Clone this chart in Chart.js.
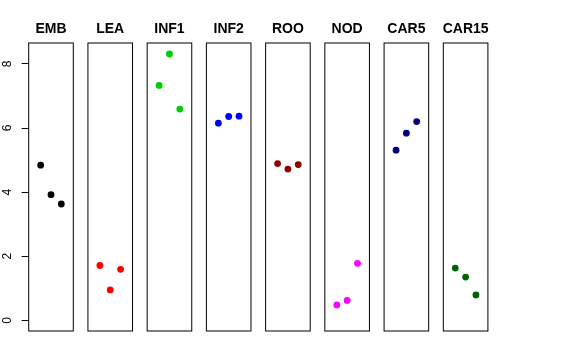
<!DOCTYPE html>
<html>
<head>
<meta charset="utf-8">
<script src="https://cdn.jsdelivr.net/npm/chart.js@4/dist/chart.umd.min.js"></script>
<style>
  html, body { margin: 0; padding: 0; background: #fff; }
  #wrap { position: relative; width: 576px; height: 360px; overflow: hidden; }
  #wrap .cell { position: absolute; top: 0; }
</style>
</head>
<body>
<div id="wrap"></div>
<script>
// panel names + colours
const groups = ['EMB', 'LEA', 'INF1', 'INF2', 'ROO', 'NOD', 'CAR5', 'CAR15'];
const colors = ['#000000', '#ff0000', '#00cd00', '#0000ff', '#8b0000', '#ff00ff', '#000080', '#006400'];

// three replicates per group
const xPos = [1, 2, 3];
const EMB = [4.84, 3.92, 3.63];
const LEA = [1.71, 0.95, 1.59];
const INF1 = [7.33, 8.31, 6.59];
const INF2 = [6.15, 6.36, 6.37];
const ROO = [4.89, 4.72, 4.86];
const NOD = [0.48, 0.62, 1.78];
const CAR5 = [5.31, 5.84, 6.20];
const CAR15 = [1.63, 1.35, 0.79];
const values = [EMB, LEA, INF1, INF2, ROO, NOD, CAR5, CAR15];

const yTicks = [0, 2, 4, 6, 8];

// panel geometry
const PANEL_LEFT = 28.7, PANEL_STEP = 59.23, PANEL_W = 44.6;
const PLOT_TOP = 43, PLOT_BOTTOM = 331, H = 360;
const SIDE = 6;

const boxAndTitle = {
  id: 'boxAndTitle',
  afterDraw(chart, args, opts) {
    const { ctx, chartArea: a } = chart;
    ctx.save();
    ctx.strokeStyle = '#000';
    ctx.lineWidth = 1;
    ctx.strokeRect(a.left, a.top, a.right - a.left, a.bottom - a.top);
    ctx.fillStyle = '#000';
    ctx.font = 'bold 14px "Liberation Sans", Arial, sans-serif';
    ctx.textAlign = 'center';
    ctx.textBaseline = 'middle';
    ctx.fillText(opts.text, (a.left + a.right) / 2, 29.5);
    ctx.restore();
  }
};

const wrap = document.getElementById('wrap');

groups.forEach((name, i) => {
  const first = i === 0;
  const left = PANEL_LEFT + PANEL_STEP * i;
  const cvLeft = first ? 0 : Math.floor(left - SIDE);
  const cvW = Math.ceil(left + PANEL_W + SIDE) - cvLeft;
  const inner = left - cvLeft;

  const cell = document.createElement('div');
  cell.className = 'cell';
  cell.style.left = cvLeft + 'px';
  cell.style.width = cvW + 'px';
  cell.style.height = H + 'px';
  const cv = document.createElement('canvas');
  cv.width = cvW;
  cv.height = H;
  cell.appendChild(cv);
  wrap.appendChild(cell);

  new Chart(cv, {
    type: 'scatter',
    data: {
      datasets: [{
        data: xPos.map((x, k) => ({ x, y: values[i][k] })),
        backgroundColor: colors[i],
        borderColor: colors[i],
        borderWidth: 0,
        pointRadius: 3.4,
        pointHoverRadius: 3.4
      }]
    },
    options: {
      responsive: false,
      animation: false,
      events: [],
      layout: {
        padding: {
          top: PLOT_TOP,
          bottom: H - PLOT_BOTTOM,
          left: first ? 0 : inner,
          right: cvW - inner - PANEL_W
        }
      },
      plugins: {
        legend: { display: false },
        tooltip: { enabled: false },
        boxAndTitle: { text: name }
      },
      scales: {
        x: { type: 'linear', display: false, min: -0.16, max: 4.16 },
        y: {
          type: 'linear',
          display: first,
          min: -0.333,
          max: 8.653,
          afterBuildTicks: s => { s.ticks = yTicks.map(v => ({ value: v })); },
          afterFit: s => { if (first) s.width = left; },
          grid: { drawOnChartArea: false, drawTicks: true, tickLength: 7, color: '#000', tickColor: '#000' },
          border: { display: false },
          ticks: {
            color: '#000',
            font: { family: '"Liberation Sans", Arial, sans-serif', size: 12 },
            minRotation: 90,
            maxRotation: 90,
            crossAlign: 'center',
            padding: 11
          }
        }
      }
    },
    plugins: [boxAndTitle]
  });
});
</script>
</body>
</html>
